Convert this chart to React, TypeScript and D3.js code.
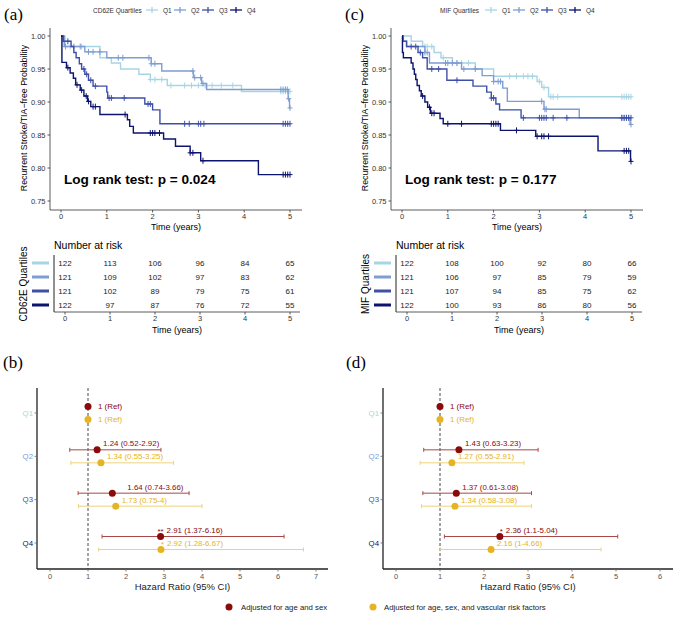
import React from "react";
import * as d3 from "d3";

type Step = [number, number];

const SANS = "'Liberation Sans', Arial, Helvetica, sans-serif";
const SERIF = "'Liberation Serif', 'Times New Roman', serif";

const quartiles = ["Q1", "Q2", "Q3", "Q4"];
const quartileColors = ["#a8d5e4", "#7e9dd2", "#3e50a6", "#0c146e"];
const survivalTicks = [0.75, 0.8, 0.85, 0.9, 0.95, 1.0];
const timeTicks = [0, 1, 2, 3, 4, 5];
const followUpEnd = 5;

// CD62E quartiles, KM steps [time, survival] and censor times
const cd62eQ1Steps: Step[] = [[0, 1], [0.05, 0.984], [0.85, 0.967], [1.1, 0.959], [1.3, 0.95], [1.7, 0.942], [1.95, 0.934], [2.32, 0.925], [3.94, 0.916]];
const cd62eQ1Censor = [0.2, 0.45, 1.95, 2.05, 2.2, 2.4, 2.7, 2.85, 3.0, 3.15, 3.3, 3.5, 3.75, 4.8, 4.85, 4.9, 4.95, 5.0];
const cd62eQ2Steps: Step[] = [[0, 1], [0.08, 0.984], [0.52, 0.976], [1.0, 0.967], [1.97, 0.958], [2.2, 0.947], [2.89, 0.937], [3.07, 0.928], [3.18, 0.919], [4.96, 0.905], [4.99, 0.891]];
const cd62eQ2Censor = [0.1, 0.28, 0.42, 0.6, 0.7, 0.85, 1.25, 1.35, 1.92, 1.97, 2.05, 2.88, 2.92, 3.05, 3.1, 4.8, 4.85, 4.9, 4.94, 4.97, 5.0];
const cd62eQ3Steps: Step[] = [[0, 1], [0.05, 0.992], [0.22, 0.984], [0.28, 0.975], [0.33, 0.967], [0.4, 0.958], [0.45, 0.95], [0.52, 0.942], [0.6, 0.933], [0.7, 0.924], [1.0, 0.915], [1.02, 0.906], [1.83, 0.897], [2.0, 0.888], [2.16, 0.867]];
const cd62eQ3Censor = [0.15, 0.5, 0.56, 0.65, 0.75, 1.05, 1.1, 1.38, 1.9, 1.95, 2.7, 2.8, 3.0, 3.05, 3.12, 4.85, 4.9, 4.95, 5.0];
const cd62eQ4Steps: Step[] = [[0, 1], [0.02, 0.96], [0.12, 0.952], [0.2, 0.944], [0.27, 0.936], [0.32, 0.926], [0.42, 0.918], [0.5, 0.909], [0.58, 0.901], [0.65, 0.893], [0.85, 0.881], [1.45, 0.873], [1.5, 0.863], [1.58, 0.853], [2.24, 0.844], [2.5, 0.833], [2.82, 0.823], [3.05, 0.811], [4.31, 0.79]];
const cd62eQ4Censor = [0.15, 0.35, 0.45, 0.55, 0.6, 0.7, 0.75, 1.4, 1.95, 2.0, 2.05, 2.15, 2.82, 2.88, 3.1, 4.85, 4.9, 4.95, 5.0];

// MIF quartiles
const mifQ1Steps: Step[] = [[0, 1], [0.2, 0.992], [0.45, 0.984], [0.7, 0.975], [0.85, 0.967], [1.1, 0.959], [1.6, 0.95], [2.0, 0.939], [2.95, 0.931], [3.05, 0.922], [3.2, 0.908]];
const mifQ1Censor = [0.5, 0.55, 0.65, 0.9, 1.2, 1.3, 1.45, 2.35, 2.5, 2.65, 2.75, 2.85, 3.0, 3.1, 3.25, 3.3, 3.4, 4.8, 4.85, 4.9, 4.95, 5.0];
const mifQ2Steps: Step[] = [[0, 1], [0.03, 0.992], [0.1, 0.984], [0.5, 0.975], [0.6, 0.959], [1.3, 0.95], [1.75, 0.94], [2.0, 0.931], [2.2, 0.921], [2.3, 0.901], [3.1, 0.889], [3.87, 0.876], [4.98, 0.866]];
const mifQ2Censor = [0.5, 0.55, 0.95, 1.0, 1.1, 1.2, 1.35, 1.6, 2.0, 2.1, 2.15, 3.05, 3.12, 3.15, 4.8, 4.85, 4.9, 4.95, 5.0];
const mifQ3Steps: Step[] = [[0, 1], [0.02, 0.992], [0.1, 0.984], [0.35, 0.975], [0.45, 0.967], [0.55, 0.95], [0.98, 0.933], [1.55, 0.924], [1.85, 0.915], [1.95, 0.906], [2.05, 0.897], [2.13, 0.888], [2.6, 0.876]];
const mifQ3Censor = [0.2, 0.3, 0.4, 0.65, 0.8, 1.2, 1.95, 2.0, 2.65, 3.0, 3.05, 3.1, 3.15, 3.3, 3.6, 4.8, 4.85, 4.9, 4.95, 5.0];
const mifQ4Steps: Step[] = [[0, 1], [0.01, 0.975], [0.03, 0.967], [0.2, 0.959], [0.24, 0.95], [0.27, 0.942], [0.3, 0.934], [0.33, 0.925], [0.38, 0.917], [0.42, 0.909], [0.5, 0.9], [0.56, 0.892], [0.62, 0.883], [0.83, 0.875], [0.9, 0.867], [2.15, 0.857], [2.92, 0.848], [4.28, 0.826], [4.99, 0.81]];
const mifQ4Censor = [0.45, 0.6, 0.65, 0.7, 1.0, 1.3, 1.95, 2.0, 2.05, 2.1, 2.5, 2.95, 3.05, 3.1, 3.2, 4.85, 4.9, 4.95, 5.0];

// numbers at risk (rows Q1..Q4, columns years 0..5)
const cd62eAtRisk = [[122, 113, 106, 96, 84, 65], [121, 109, 102, 97, 83, 62], [121, 102, 89, 79, 75, 61], [122, 97, 87, 76, 72, 55]];
const mifAtRisk = [[122, 108, 100, 92, 80, 66], [121, 106, 97, 85, 79, 59], [121, 107, 94, 85, 75, 62], [122, 100, 93, 86, 80, 56]];

// hazard ratios
const cd62eAgeSexHR = [1, 1.24, 1.64, 2.91];
const cd62eAgeSexLow = [1, 0.52, 0.74, 1.37];
const cd62eAgeSexHigh = [1, 2.92, 3.66, 6.16];
const cd62eAgeSexStars = ["", "", "", "**"];
const cd62eVascHR = [1, 1.34, 1.73, 2.92];
const cd62eVascLow = [1, 0.55, 0.75, 1.28];
const cd62eVascHigh = [1, 3.25, 4, 6.67];
const cd62eVascStars = ["", "", "", "*"];
const mifAgeSexHR = [1, 1.43, 1.37, 2.36];
const mifAgeSexLow = [1, 0.63, 0.61, 1.1];
const mifAgeSexHigh = [1, 3.23, 3.08, 5.04];
const mifAgeSexStars = ["", "", "", "*"];
const mifVascHR = [1, 1.27, 1.34, 2.16];
const mifVascLow = [1, 0.55, 0.58, 1];
const mifVascHigh = [1, 2.91, 3.08, 4.66];
const mifVascStars = ["", "", "", ""];
const cd62eHrTicks = [0, 1, 2, 3, 4, 5, 6, 7];
const mifHrTicks = [0, 1, 2, 3, 4, 5, 6];

const modelLabels = ["Adjusted for age and sex", "Adjusted for age, sex, and vascular risk factors"];
const modelColors = ["#8b0a0a", "#e6b422"];
const modelBarColors = ["#a84848", "#efd27a"];

const stepAt = (steps: Step[], t: number) => {
  let s = steps[0][1];
  for (const st of steps) if (st[0] <= t) s = st[1];
  return s;
};

function KMPanel({ dx, tag, legendTitle, titleX, itemX, curves, pText }: any) {
  const x = d3.scaleLinear().domain([0, followUpEnd]).range([61, 290]);
  const y = d3.scaleLinear().domain([0.75, 1]).range([201, 36]);
  const line = d3.line<Step>().x(d => x(d[0])).y(d => y(d[1])).curve(d3.curveStepAfter);
  return (
    <g transform={`translate(${dx},0)`} fontFamily={SANS}>
      <text x={4} y={20} fontFamily={SERIF} fontSize={17}>{tag}</text>
      <text x={titleX} y={12.5} fontSize={6.5} fill="#333">{legendTitle}</text>
      {quartiles.map((q, i) => (
        <g key={q} transform={`translate(${itemX + i * 28},10)`}>
          <line x1={-6} x2={6} y1={0} y2={0} stroke={quartileColors[i]} strokeWidth={1.3} />
          <line x1={0} x2={0} y1={-3} y2={3} stroke={quartileColors[i]} strokeWidth={1.3} />
          <text x={11} y={2.5} fontSize={6.5} fill="#333">{q}</text>
        </g>
      ))}
      <line x1={50} x2={50} y1={28} y2={210} stroke="#333" strokeWidth={0.8} />
      <line x1={50} x2={302} y1={210} y2={210} stroke="#333" strokeWidth={0.8} />
      {survivalTicks.map(v => (
        <g key={v}>
          <line x1={47.5} x2={50} y1={y(v)} y2={y(v)} stroke="#333" strokeWidth={0.8} />
          <text x={45.5} y={y(v) + 2.6} fontSize={7.5} textAnchor="end" fill="#333">{v.toFixed(2)}</text>
        </g>
      ))}
      {timeTicks.map(t => (
        <g key={t}>
          <line x1={x(t)} x2={x(t)} y1={210} y2={212.5} stroke="#333" strokeWidth={0.8} />
          <text x={x(t)} y={219} fontSize={7.5} textAnchor="middle" fill="#333">{t}</text>
        </g>
      ))}
      <text x={176} y={230} fontSize={9} textAnchor="middle">Time (years)</text>
      <text transform="translate(27,118) rotate(-90)" fontSize={8.8} textAnchor="middle">Recurrent Stroke/TIA−free Probability</text>
      {curves.map((c: any, i: number) => {
        const pts: Step[] = [...c.steps, [followUpEnd, c.steps[c.steps.length - 1][1]]];
        return (
          <g key={i} stroke={quartileColors[i]} fill="none" strokeWidth={1.4}>
            <path d={line(pts) || ""} />
            {c.censor.map((t: number, j: number) => {
              const cx = x(t), cy = y(stepAt(c.steps, t));
              return (
                <g key={j}>
                  <line x1={cx} x2={cx} y1={cy - 3} y2={cy + 3} strokeWidth={1} />
                  <line x1={cx - 2.5} x2={cx + 2.5} y1={cy} y2={cy} strokeWidth={1} />
                </g>
              );
            })}
          </g>
        );
      })}
      <text x={64} y={184} fontSize={13.6} fontWeight="bold">{pText}</text>
    </g>
  );
}

function RiskTable({ dx, rows, groupTitle }: any) {
  const x = d3.scaleLinear().domain([0, followUpEnd]).range([65, 290]);
  const y = d3.scalePoint<string>().domain(quartiles).range([263, 305]);
  return (
    <g transform={`translate(${dx},0)`} fontFamily={SANS}>
      <text x={54} y={249} fontSize={10.5}>Number at risk</text>
      <line x1={54} x2={54} y1={255} y2={312} stroke="#222" strokeWidth={1} />
      <line x1={54} x2={300} y1={312} y2={312} stroke="#333" strokeWidth={0.8} />
      {quartiles.map((q, i) => (
        <g key={q}>
          <line x1={32} x2={49} y1={y(q)} y2={y(q)} stroke={quartileColors[i]} strokeWidth={3} />
          {rows[i].map((n: number, j: number) => (
            <text key={j} x={x(timeTicks[j])} y={(y(q) as number) + 2.8} fontSize={8} textAnchor="middle" fill="#222">{n}</text>
          ))}
        </g>
      ))}
      {timeTicks.map(t => (
        <g key={t}>
          <line x1={x(t)} x2={x(t)} y1={312} y2={314.5} stroke="#333" strokeWidth={0.8} />
          <text x={x(t)} y={321} fontSize={7.5} textAnchor="middle" fill="#333">{t}</text>
        </g>
      ))}
      <text x={177} y={333} fontSize={9} textAnchor="middle">Time (years)</text>
      <text transform="translate(27,284) rotate(-90)" fontSize={10} textAnchor="middle">{groupTitle}</text>
    </g>
  );
}

function ForestPanel({ tag, tagX, axisX, axisEnd, xRange, ticks, models }: any) {
  const x = d3.scaleLinear().domain([0, ticks[ticks.length - 1]]).range(xRange);
  const y = d3.scalePoint<string>().domain(quartiles).range([413, 543]);
  const offsets = [-6.5, 6.5];
  const fmt = (v: number) => String(v);
  return (
    <g fontFamily={SANS}>
      <text x={tagX} y={368} fontFamily={SERIF} fontSize={17}>{tag}</text>
      <line x1={x(1)} x2={x(1)} y1={388} y2={569} stroke="#333" strokeWidth={0.9} strokeDasharray="3,2" />
      {models.map((m: any, k: number) => (
        <g key={k}>
          {quartiles.map((q, i) => {
            const cy = (y(q) as number) + offsets[k];
            const cx = x(m.hr[i]);
            const isRef = i === 0;
            const label = isRef ? "1 (Ref)" : `${fmt(m.hr[i])} (${fmt(m.low[i])}-${fmt(m.high[i])})`;
            const tx = isRef ? cx + 10 : cx + 6 + (m.nudge ? m.nudge[i] : 0);
            const ty = isRef ? cy + 2.8 : cy - 3.5;
            return (
              <g key={q}>
                {!isRef && (
                  <g stroke={modelBarColors[k]} strokeWidth={1}>
                    <line x1={x(m.low[i])} x2={x(m.high[i])} y1={cy} y2={cy} />
                    <line x1={x(m.low[i])} x2={x(m.low[i])} y1={cy - 2} y2={cy + 2} />
                    <line x1={x(m.high[i])} x2={x(m.high[i])} y1={cy - 2} y2={cy + 2} />
                  </g>
                )}
                <circle cx={cx} cy={cy} r={3.5} fill={modelColors[k]} />
                <text x={tx} y={ty} fontSize={7.9} fill={modelColors[k]}>{label}</text>
                {m.stars[i] && <text x={tx - 3} y={ty + 1} fontSize={7.9} textAnchor="end" fill={modelColors[k]}>{m.stars[i]}</text>}
              </g>
            );
          })}
        </g>
      ))}
      <line x1={axisX} x2={axisX} y1={388} y2={569} stroke="#222" strokeWidth={1.3} />
      <line x1={axisX} x2={axisEnd} y1={569} y2={569} stroke="#222" strokeWidth={1.3} />
      {quartiles.map((q, i) => (
        <g key={q}>
          <line x1={axisX - 2.5} x2={axisX} y1={y(q)} y2={y(q)} stroke="#666" strokeWidth={0.8} />
          <text x={axisX - 4} y={(y(q) as number) + 2.6} fontSize={7.8} textAnchor="end" fill={quartileColors[i]}>{q}</text>
        </g>
      ))}
      {ticks.map((t: number) => (
        <g key={t}>
          <line x1={x(t)} x2={x(t)} y1={569} y2={571.5} stroke="#666" strokeWidth={0.8} />
          <text x={x(t)} y={579} fontSize={7.5} textAnchor="middle" fill="#555">{t}</text>
        </g>
      ))}
      <text x={(axisX + axisEnd) / 2} y={590} fontSize={9.5} textAnchor="middle" fill="#222">Hazard Ratio (95% CI)</text>
    </g>
  );
}

export default function App() {
  const cd62eCurves = [
    { steps: cd62eQ1Steps, censor: cd62eQ1Censor },
    { steps: cd62eQ2Steps, censor: cd62eQ2Censor },
    { steps: cd62eQ3Steps, censor: cd62eQ3Censor },
    { steps: cd62eQ4Steps, censor: cd62eQ4Censor },
  ];
  const mifCurves = [
    { steps: mifQ1Steps, censor: mifQ1Censor },
    { steps: mifQ2Steps, censor: mifQ2Censor },
    { steps: mifQ3Steps, censor: mifQ3Censor },
    { steps: mifQ4Steps, censor: mifQ4Censor },
  ];
  const cd62eModels = [
    { hr: cd62eAgeSexHR, low: cd62eAgeSexLow, high: cd62eAgeSexHigh, stars: cd62eAgeSexStars, nudge: [0, 0, 9, 0] },
    { hr: cd62eVascHR, low: cd62eVascLow, high: cd62eVascHigh, stars: cd62eVascStars },
  ];
  const mifModels = [
    { hr: mifAgeSexHR, low: mifAgeSexLow, high: mifAgeSexHigh, stars: mifAgeSexStars },
    { hr: mifVascHR, low: mifVascLow, high: mifVascHigh, stars: mifVascStars },
  ];
  return (
    <div style={{ position: "absolute", left: 0, top: 0 }}>
      <svg width={679} height={626} style={{ display: "block", background: "#fff" }}>
        <KMPanel dx={0} tag="(a)" legendTitle="CD62E Quartiles" titleX={93} itemX={152} curves={cd62eCurves} pText="Log rank test: p = 0.024" />
        <KMPanel dx={341} tag="(c)" legendTitle="MIF Quartiles" titleX={99} itemX={150} curves={mifCurves} pText="Log rank test: p = 0.177" />
        <RiskTable dx={0} rows={cd62eAtRisk} groupTitle="CD62E Quartiles" />
        <RiskTable dx={342} rows={mifAtRisk} groupTitle="MIF Quartiles" />
        <ForestPanel tag="(b)" tagX={3} axisX={37} axisEnd={328} xRange={[50, 316]} ticks={cd62eHrTicks} models={cd62eModels} />
        <ForestPanel tag="(d)" tagX={346} axisX={383} axisEnd={673} xRange={[396, 660]} ticks={mifHrTicks} models={mifModels} />
        <g fontFamily={SANS} fontSize={7.8} fill="#222">
          <circle cx={229} cy={607} r={3.5} fill={modelColors[0]} />
          <text x={241} y={609.7}>{modelLabels[0]}</text>
          <circle cx={373} cy={607} r={3.5} fill={modelColors[1]} />
          <text x={384} y={609.7}>{modelLabels[1]}</text>
        </g>
      </svg>
    </div>
  );
}
